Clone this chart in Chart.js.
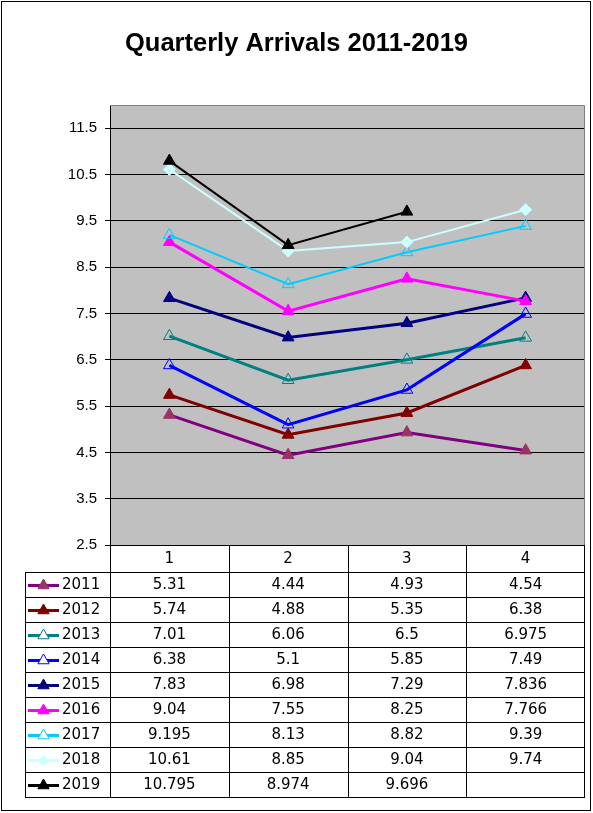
<!DOCTYPE html>
<html>
<head>
<meta charset="utf-8">
<script src="https://cdn.jsdelivr.net/npm/chart.js@4.4.0/dist/chart.umd.min.js"></script>
<style>
  html, body { margin: 0; padding: 0; background: #fff; }
  canvas { display: block; }
</style>
</head>
<body>
<canvas id="arrivals" width="593" height="813"></canvas>
<script>
// quarters on the category axis
const quarters = ['1', '2', '3', '4'];
const years = ['2011', '2012', '2013', '2014', '2015', '2016', '2017', '2018', '2019'];

// arrivals per quarter, one list per year
const arr2011 = [5.31, 4.44, 4.93, 4.54];
const arr2012 = [5.74, 4.88, 5.35, 6.38];
const arr2013 = [7.01, 6.06, 6.5, 6.975];
const arr2014 = [6.38, 5.1, 5.85, 7.49];
const arr2015 = [7.83, 6.98, 7.29, 7.836];
const arr2016 = [9.04, 7.55, 8.25, 7.766];
const arr2017 = [9.195, 8.13, 8.82, 9.39];
const arr2018 = [10.61, 8.85, 9.04, 9.74];
const arr2019 = [10.795, 8.974, 9.696, null];

const yTicks = [2.5, 3.5, 4.5, 5.5, 6.5, 7.5, 8.5, 9.5, 10.5, 11.5];

// look of each series
const lineColors = ['#800080', '#800000', '#008080', '#0000ff', '#000080', '#ff00ff', '#00ccff', '#ccffff', '#000000'];
const markerFill = ['#993366', '#800000', 'rgba(0,0,0,0)', 'rgba(0,0,0,0)', '#000080', '#ff00ff', 'rgba(0,0,0,0)', '#ccffff', '#000000'];
const markerStyle = ['triangle', 'triangle', 'triangle', 'triangle', 'triangle', 'triangle', 'triangle', 'rectRot', 'triangle'];
const lineWidths = [3, 3, 3, 3, 3, 3, 2, 2, 2];

const allSeries = [arr2011, arr2012, arr2013, arr2014, arr2015, arr2016, arr2017, arr2018, arr2019];

const tableFont = '15px "DejaVu Sans"';

// small marker painter for the legend keys in the data table
function drawMarker(ctx, style, x, y, r, fill, stroke) {
  ctx.beginPath();
  if (style === 'rectRot') {
    ctx.moveTo(x, y - r);
    ctx.lineTo(x + r, y);
    ctx.lineTo(x, y + r);
    ctx.lineTo(x - r, y);
  } else {
    ctx.moveTo(x, y - r);
    ctx.lineTo(x + r * 0.866, y + r / 2);
    ctx.lineTo(x - r * 0.866, y + r / 2);
  }
  ctx.closePath();
  ctx.fillStyle = fill;
  ctx.fill();
  ctx.lineWidth = 1;
  ctx.strokeStyle = stroke;
  ctx.stroke();
}

const frameAndTable = {
  id: 'frameAndTable',
  beforeDraw(chart) {
    const { ctx, chartArea: a } = chart;
    ctx.save();
    ctx.fillStyle = '#fff';
    ctx.fillRect(0, 0, chart.width, chart.height);
    ctx.strokeStyle = '#000';
    ctx.lineWidth = 1;
    ctx.strokeRect(1.5, 1.5, 589, 809);
    ctx.fillStyle = '#c0c0c0';
    ctx.fillRect(a.left, a.top, a.right - a.left, a.bottom - a.top);
    ctx.restore();
  },
  beforeDatasetsDraw(chart) {
    const { ctx, chartArea: a } = chart;
    ctx.save();
    ctx.strokeStyle = '#808080';
    ctx.lineWidth = 1;
    ctx.beginPath();
    ctx.moveTo(a.left, Math.round(a.top) + 0.5);
    ctx.lineTo(Math.round(a.right) - 0.5, Math.round(a.top) + 0.5);
    ctx.lineTo(Math.round(a.right) - 0.5, a.bottom);
    ctx.stroke();
    ctx.restore();
  },
  afterDraw(chart) {
    const { ctx, chartArea: a } = chart;
    const xs = chart.scales.x;
    const headTop = Math.round(a.bottom);
    const headBot = headTop + 27;
    const rowH = 25;
    const tableLeft = 25;
    const tableBot = headBot + rowH * years.length;
    const colW = (a.right - a.left) / quarters.length;

    ctx.save();
    ctx.strokeStyle = '#000';
    ctx.lineWidth = 1;
    ctx.beginPath();
    for (let i = 0; i <= quarters.length; i++) {
      const x = Math.round(a.left + i * colW) + 0.5 - (i === quarters.length ? 1 : 0);
      ctx.moveTo(x, headTop);
      ctx.lineTo(x, tableBot);
    }
    ctx.moveTo(tableLeft + 0.5, headBot);
    ctx.lineTo(tableLeft + 0.5, tableBot + 0.5);
    for (let r = 0; r <= years.length; r++) {
      const y = headBot + r * rowH + 0.5;
      ctx.moveTo(tableLeft, y);
      ctx.lineTo(Math.round(a.right), y);
    }
    ctx.stroke();

    ctx.font = tableFont;
    ctx.fillStyle = '#000';
    ctx.textBaseline = 'middle';
    ctx.textAlign = 'center';
    quarters.forEach((q, j) => {
      ctx.fillText(q, xs.getPixelForValue(j), (headTop + headBot) / 2 + 1);
    });

    years.forEach((yr, i) => {
      const cy = headBot + i * rowH + rowH / 2 + 1;
      // legend key
      ctx.strokeStyle = lineColors[i];
      ctx.lineWidth = 3;
      ctx.beginPath();
      ctx.moveTo(28, cy);
      ctx.lineTo(59, cy);
      ctx.stroke();
      const stroke = markerFill[i] === 'rgba(0,0,0,0)' ? lineColors[i] : markerFill[i];
      const fill = markerFill[i] === 'rgba(0,0,0,0)' ? '#fff' : markerFill[i];
      drawMarker(ctx, markerStyle[i], 43.5, cy, markerStyle[i] === 'rectRot' ? 5 : 6.5, fill, stroke);

      ctx.fillStyle = '#000';
      ctx.textAlign = 'left';
      ctx.fillText(yr, 62, cy);
      ctx.textAlign = 'center';
      allSeries[i].forEach((v, j) => {
        if (v !== null) ctx.fillText(String(v), xs.getPixelForValue(j), cy);
      });
    });
    ctx.restore();
  }
};

const datasets = years.map((yr, i) => ({
  label: yr,
  data: allSeries[i],
  borderColor: lineColors[i],
  borderWidth: lineWidths[i],
  pointStyle: markerStyle[i],
  pointRadius: markerStyle[i] === 'rectRot' ? 6 : 6.8,
  pointBackgroundColor: markerFill[i],
  pointBorderColor: markerFill[i] === 'rgba(0,0,0,0)' ? lineColors[i] : markerFill[i],
  pointBorderWidth: 1,
  tension: 0,
  spanGaps: false,
  order: years.length - i
}));

new Chart(document.getElementById('arrivals'), {
  type: 'line',
  data: { labels: quarters, datasets: datasets },
  options: {
    responsive: false,
    animation: false,
    layout: { padding: { left: 8, right: 8, top: 0, bottom: 268 } },
    plugins: {
      legend: { display: false },
      tooltip: { enabled: false },
      title: {
        display: true,
        text: 'Quarterly Arrivals 2011-2019',
        color: '#000',
        font: { family: 'Liberation Sans', size: 25.5, weight: 'bold' },
        padding: { top: 29, bottom: 45.4 }
      }
    },
    scales: {
      x: {
        display: false,
        offset: true
      },
      y: {
        min: 2.5,
        max: 12,
        afterBuildTicks: (s) => { s.ticks = yTicks.map(v => ({ value: v })); },
        afterFit: (s) => { s.width = 102; },
        grid: { color: '#000', tickLength: 5, drawTicks: true },
        border: { color: '#000' },
        ticks: {
          color: '#000',
          padding: 8,
          font: { family: 'Liberation Sans', size: 15 },
          callback: (v) => Number(v).toFixed(1)
        }
      }
    }
  },
  plugins: [frameAndTable]
});
</script>
</body>
</html>
